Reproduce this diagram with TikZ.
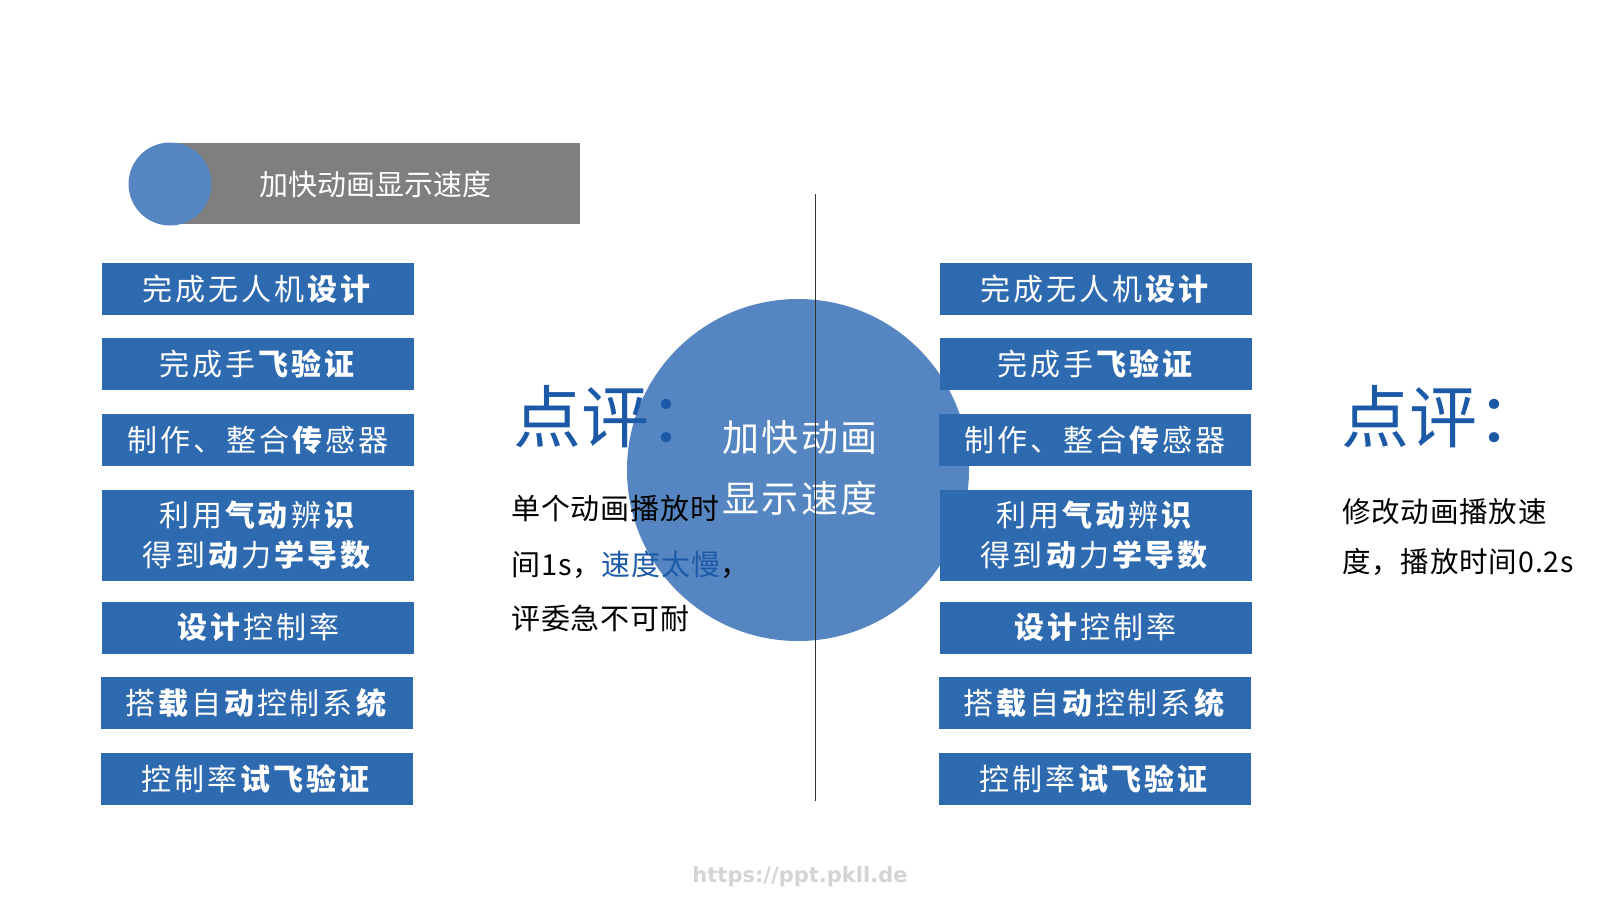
\documentclass[tikz,border=0pt]{standalone}
\usepackage{fontspec}
\setmainfont{Noto Sans CJK SC}
\newfontfamily\boxfont[LetterSpace=10]{Noto Sans CJK SC}
\newfontfamily\circfont[LetterSpace=6]{Noto Sans CJK SC}
\newfontfamily\comfont[LetterSpace=3]{Noto Sans CJK SC}
\newfontfamily\urlfont{DejaVu Sans}
\definecolor{boxblue}{RGB}{46,106,176}
\definecolor{circblue}{RGB}{85,134,194}
\definecolor{hdgray}{RGB}{127,127,127}
\definecolor{txtblue}{RGB}{28,90,168}
\definecolor{urlgray}{RGB}{212,212,212}
\tikzset{
  box/.style={fill=boxblue, minimum width=312pt, minimum height=52pt, inner sep=0pt,
    text=white, align=center, font=\boxfont\fontsize{30}{40}\selectfont},
  tallbox/.style={box, minimum height=91pt},
  review/.style={anchor=west, inner sep=0pt, text=txtblue, font=\fontsize{68}{68}\selectfont},
  comment/.style={anchor=west, inner sep=0pt, text=black, font=\comfont\fontsize{29}{29}\selectfont},
  rcomment/.style={comment, font=\comfont\fontsize{28.5}{28.5}\selectfont}
}
\begin{document}
\begin{tikzpicture}[x=1pt,y=-1pt]
\useasboundingbox (0,0) rectangle (1600,900);
\fill[white] (0,0) rectangle (1600,900);
% header
\fill[hdgray] (170,143) rectangle (580,224);
\node[circle, fill=circblue, minimum size=83pt, inner sep=0pt] (hc) at (170,184) {};
\node[text=white, inner sep=0pt, font=\fontsize{29}{29}\selectfont] (ht) at (375,184) {加快动画显示速度};
% big circle
\node[circle, fill=circblue, minimum size=342pt, inner sep=0pt] (bc) at (798,470) {};
\node[text=white, inner sep=0pt, font=\circfont\fontsize{37}{37}\selectfont] (c1) at (800,438) {加快动画};
\node[text=white, inner sep=0pt, font=\circfont\fontsize{37}{37}\selectfont] (c2) at (800,498) {显示速度};
% left boxes
\node[box] (l1) at (258,289) {完成无人机\textbf{设计}};
\node[box] (l2) at (258,364) {完成手\textbf{飞验证}};
\node[box] (l3) at (258,440) {制作、整合\textbf{传}感器};
\node[tallbox] (l4) at (258,535.5) {利用\textbf{气动}辨\textbf{识}\\得到\textbf{动}力\textbf{学导数}};
\node[box] (l5) at (258,627.5) {\textbf{设计}控制率};
\node[box] (l6) at (257,703) {搭\textbf{载}自\textbf{动}控制系\textbf{统}};
\node[box] (l7) at (257,778.5) {控制率\textbf{试飞验证}};
% right boxes
\node[box] (r1) at (1096,289) {完成无人机\textbf{设计}};
\node[box] (r2) at (1096,364) {完成手\textbf{飞验证}};
\node[box] (r3) at (1095,440) {制作、整合\textbf{传}感器};
\node[tallbox] (r4) at (1095.5,535.5) {利用\textbf{气动}辨\textbf{识}\\得到\textbf{动}力\textbf{学导数}};
\node[box] (r5) at (1095.5,627.5) {\textbf{设计}控制率};
\node[box] (r6) at (1095,703) {搭\textbf{载}自\textbf{动}控制系\textbf{统}};
\node[box] (r7) at (1095,778.5) {控制率\textbf{试飞验证}};
% left review
\node[review] (lr) at (513,417) {点评：};
\node[comment] (lc1) at (511,508) {单个动画播放时};
\node[comment] (lc2) at (511,565) {间1s，\textcolor{txtblue}{速度太慢}，};
\node[comment] (lc3) at (511,618) {评委急不可耐};
% right review
\node[review] (rr) at (1341,417) {点评：};
\node[rcomment] (rc1) at (1342,512) {修改动画播放速};
\node[rcomment] (rc2) at (1342,562) {度，播放时间0.2s};
% vertical line
\coordinate (vt) at (815.5,194);
\coordinate (vb) at (815.5,801);
\draw[line width=1.3pt, black!80] (vt) -- (vb);
% footer
\node[text=urlgray, inner sep=0pt, font=\urlfont\bfseries\fontsize{21}{21}\selectfont] (url) at (800,877) {https://ppt.pkll.de};
\end{tikzpicture}
\end{document}
